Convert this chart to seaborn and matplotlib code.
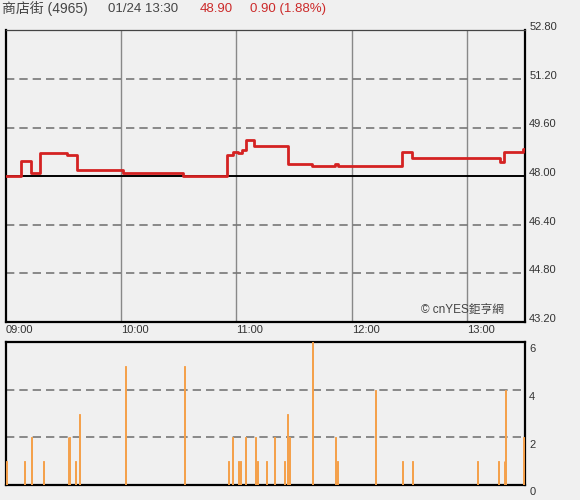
import matplotlib
matplotlib.use("Agg")
import matplotlib.pyplot as plt
import matplotlib.transforms as mtransforms
import seaborn as sns
import pandas as pd

# --- data (minutes after 09:00) ---
price_min = [0, 8, 13, 18, 32, 37, 61, 92, 115, 118, 121, 123, 125, 129, 147, 159, 171, 173, 206, 211, 257, 259, 269, 270]
price = [48.00, 48.50, 48.10, 48.75, 48.70, 48.20, 48.10, 48.00, 48.70, 48.80, 48.75, 48.85, 49.20, 49.00,
         48.40, 48.35, 48.40, 48.35, 48.80, 48.60, 48.45, 48.80, 48.90, 48.90]

vol_min = [0, 9, 13, 19, 32, 33, 36, 38, 62, 93, 116, 118, 121, 122, 125, 130, 131, 136, 140, 145, 147, 148,
           160, 172, 173, 193, 207, 212, 246, 257, 260, 261, 270]
vol = [1, 1, 2, 1, 2, 2, 1, 3, 5, 5, 1, 2, 1, 1, 2, 2, 1, 1, 2, 1, 3, 2,
       6, 2, 1, 4, 1, 1, 1, 1, 1, 4, 2]

time_ticks = [0, 60, 120, 180, 240]
time_labels = ["09:00", "10:00", "11:00", "12:00", "13:00"]
price_ticks = [43.20, 44.80, 46.40, 48.00, 49.60, 51.20, 52.80]
vol_ticks = [0, 2, 4, 6]
prev_close = 48.00

BG = "#f0f0f0"
RED = "#d42222"
TXT = "#333333"
ORANGE = "#f5a04a"

sns.set_theme(style="white")
plt.rcParams["font.family"] = ["Liberation Sans", "Noto Sans CJK TC", "DejaVu Sans"]
plt.rcParams["figure.facecolor"] = BG
plt.rcParams["axes.facecolor"] = BG

fig = plt.figure(figsize=(5.8, 5.0), dpi=100)
ax = fig.add_axes([0.0098, 0.356, 0.8954, 0.5834])
ax2 = fig.add_axes([0.0098, 0.03, 0.8954, 0.286])

# price panel
df_p = pd.DataFrame({"minute": price_min, "price": price})
sns.lineplot(data=df_p, x="minute", y="price", ax=ax, color=RED, lw=2.0,
             drawstyle="steps-post", zorder=5)
ax.set_xlim(0, 270)
ax.set_ylim(43.20, 52.80)
for t in time_ticks[1:]:
    ax.axvline(t, color="#888888", lw=1, zorder=1)
for p in price_ticks[1:-1]:
    if p == prev_close:
        ax.axhline(p, color="black", lw=1.4, zorder=2)
    else:
        ax.axhline(p, color="#777777", lw=1.2, ls=(0, (5, 3)), zorder=2)
ax.set_xticks(time_ticks)
ax.set_xticklabels(time_labels)
ax.set_yticks(price_ticks)
ax.set_yticklabels([f"{v:.2f}" for v in price_ticks])
ax.yaxis.tick_right()
ax.tick_params(axis="both", length=0, labelsize=8, colors=TXT, pad=3)
ax.tick_params(axis="x", pad=2)
for lab in ax.get_xticklabels():
    lab.set_ha("left")
off = mtransforms.ScaledTranslation(0, 3 / 72, fig.dpi_scale_trans)
for lab in ax.get_yticklabels():
    lab.set_transform(lab.get_transform() + off)
ax.set_xlabel("")
ax.set_ylabel("")
for side in ["left", "bottom", "right"]:
    ax.spines[side].set_color("black")
    ax.spines[side].set_linewidth(1.6)
ax.spines["top"].set_color("#444444")
ax.spines["top"].set_linewidth(0.9)
ax.text(0.96, 0.02, "© cnYES鉅亨網", transform=ax.transAxes, ha="right", va="bottom",
        fontsize=8.5, color="#444444", family=["Liberation Sans", "Noto Sans CJK TC", "DejaVu Sans"])

# volume panel
df_v = pd.DataFrame({"minute": vol_min, "vol": vol})
sns.barplot(data=df_v, x="minute", y="vol", ax=ax2, native_scale=True, color=ORANGE,
            width=0.5, errorbar=None, linewidth=0.7, edgecolor=ORANGE, saturation=1, zorder=3)
ax2.set_xlim(-0.6, 271)
ax2.set_ylim(0, 6)
for v in vol_ticks[1:-1]:
    ax2.axhline(v, color="#777777", lw=1.2, ls=(0, (5, 3)), zorder=1)
ax2.set_xticks([])
ax2.set_yticks(vol_ticks)
ax2.set_yticklabels([str(v) for v in vol_ticks])
ax2.yaxis.tick_right()
ax2.tick_params(axis="y", length=0, labelsize=8, colors=TXT, pad=3)
off2 = mtransforms.ScaledTranslation(0, -4.5 / 72, fig.dpi_scale_trans)
for lab in ax2.get_yticklabels():
    lab.set_transform(lab.get_transform() + off2)
ax2.set_xlabel("")
ax2.set_ylabel("")
for side in ["left", "bottom", "right", "top"]:
    ax2.spines[side].set_color("black")
    ax2.spines[side].set_linewidth(1.6)

# header
hy = 1 - 9 / 500
fig.text(2 / 580, hy, "商店街 (4965)", fontsize=10, color="#444444", va="center")
fig.text(108 / 580, hy, "01/24 13:30", fontsize=9.5, color="#444444", va="center")
fig.text(200 / 580, hy, "48.90", fontsize=9.5, color="#cc2a2a", va="center")
fig.text(250 / 580, hy, "0.90 (1.88%)", fontsize=9.5, color="#cc2a2a", va="center")

fig.savefig("out.png", dpi=100, facecolor=BG)
